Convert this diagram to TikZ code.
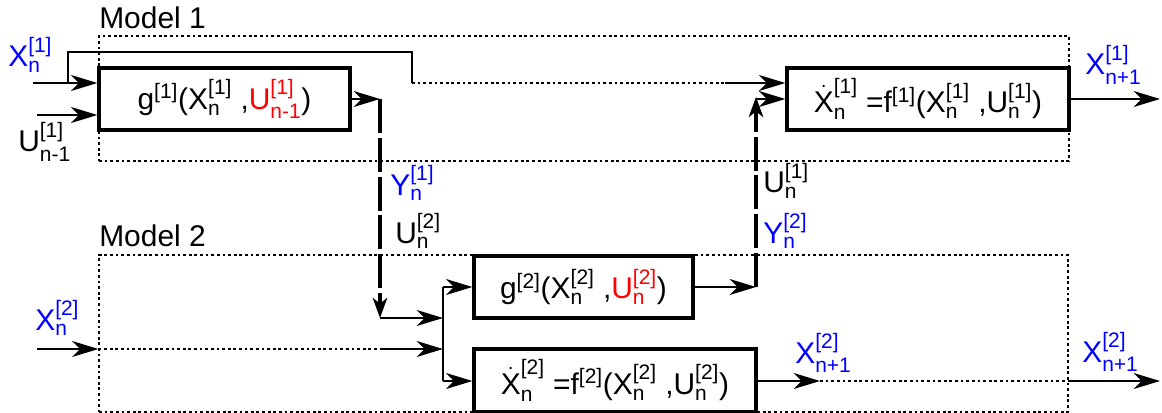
\documentclass[tikz,border=0pt]{standalone}
\usepackage{amsmath}
\usepackage{xcolor}
\usepackage{fontspec}
\setmainfont{Liberation Sans}
\usepackage{tikz}
\usetikzlibrary{
    arrows.meta,
    positioning
}
\newcommand{\sv}[3]{$\text{#1}^{\text{[#2]}}_{\text{#3}}$}
\newcommand{\dsv}[2]{$\dot{\text{X}}^{\text{[#1]}}_{\text{#2}}$}
\tikzset{
    every node/.style={font=\fontsize{21.3}{25}\selectfont},
    block/.style={draw,line width=2.3pt,inner sep=0pt},
    model/.style={draw,line width=0.8pt,dash pattern=on 2pt off 2pt,inner sep=0pt},
    lbl/.style={anchor=base west,inner sep=0pt},
    flow/.style={line width=1pt,-{Stealth[length=0.66cm,width=0.4cm,inset=0.2cm]}},
    wire/.style={line width=1pt},
    dots/.style={line width=0.8pt,dash pattern=on 2pt off 2pt},
    link/.style={line width=2.3pt,dash pattern=on 0.85cm off 0.12cm,
        -{Stealth[length=0.5cm,width=0.36cm,inset=0.14cm]}}
}

\begin{document}
\begin{tikzpicture}[x=0.025cm,y=-0.025cm]
        \useasboundingbox (0,0) rectangle (1162,413);

        % model frames
        \node[model,minimum width=970*0.025cm,minimum height=125*0.025cm] (m1) at (584,98.5) {};
        \node[model,minimum width=969*0.025cm,minimum height=157*0.025cm] (m2) at (583.5,333.5) {};
        \node[lbl] (m1l) at (99,29)  {Model 1};
        \node[lbl] (m2l) at (99,246) {Model 2};

        % blocks
        \node[block,minimum width=251*0.025cm,minimum height=62*0.025cm] (g1) at (224.5,99)
            {g$^{\text{[1]}}$(\sv{X}{1}{n} ,\textcolor{red}{\sv{U}{1}{n-1}})};
        \node[block,minimum width=282*0.025cm,minimum height=62*0.025cm] (f1) at (928,99)
            {\dsv{1}{n} =f$^{\text{[1]}}$(\sv{X}{1}{n} ,\sv{U}{1}{n})};
        \node[block,minimum width=219*0.025cm,minimum height=62*0.025cm] (g2) at (583.5,287)
            {g$^{\text{[2]}}$(\sv{X}{2}{n} ,\textcolor{red}{\sv{U}{2}{n}})};
        \node[block,minimum width=282*0.025cm,minimum height=63*0.025cm] (f2) at (615,380.5)
            {\dsv{2}{n} =f$^{\text{[2]}}$(\sv{X}{2}{n} ,\sv{U}{2}{n})};

        % signal labels
        \node[lbl,blue] (x1) at (8,67)     {\sv{X}{1}{n}};
        \node[lbl]      (u1) at (18,152)   {\sv{U}{1}{n-1}};
        \node[lbl,blue] (x1o) at (1085,75) {\sv{X}{1}{n+1}};
        \node[lbl,blue] (y1) at (390,195)  {\sv{Y}{1}{n}};
        \node[lbl]      (u2) at (395,243)  {\sv{U}{2}{n}};
        \node[lbl]      (u1n) at (763,193) {\sv{U}{1}{n}};
        \node[lbl,blue] (y2) at (763,243)  {\sv{Y}{2}{n}};
        \node[lbl,blue] (x2) at (35,330)   {\sv{X}{2}{n}};
        \node[lbl,blue] (x2m) at (795,363) {\sv{X}{2}{n+1}};
        \node[lbl,blue] (x2o) at (1082,362) {\sv{X}{2}{n+1}};

        % coordinates of wires
        \coordinate (x1in) at (33,83);
        \coordinate (x1tap) at (68,83);
        \coordinate (byA) at (412,83);
        \coordinate (byB) at (725,83);
        \coordinate (u1in) at (37,115);
        \coordinate (y1a) at (380,99);
        \coordinate (y1b) at (380,318);
        \coordinate (jn) at (443,318);
        \coordinate (jt) at (443,287);
        \coordinate (jb) at (443,381);
        \coordinate (x2in) at (37,349);
        \coordinate (x2a) at (380,349);
        \coordinate (y2a) at (756,287);
        \coordinate (y2b) at (756,97);
        \coordinate (y2c) at (756,99);
        \coordinate (x2b) at (820,381);
        \coordinate (x2c) at (1068,381);

        % model 1
        \draw[flow] (x1in) -- (x1in -| g1.west);
        \draw[flow] (u1in) -- (u1in -| g1.west);
        \draw[wire] (x1tap) |- (412,52) -- (byA);
        \draw[dots] (byA) -- (byB);
        \draw[flow] (byB) -- (byB -| f1.west);
        \draw[flow] (g1.east) -- (y1a);
        \draw[flow] (y2c) -- (y2c -| f1.west);
        \draw[flow] (f1.east) -- (1160,99);

        % coupling
        \draw[link] (y1a) -- (y1b);
        \draw[link] (y2a) -- (y2b);

        % model 2
        \draw[flow] (y1b) -- (jn);
        \draw[flow] (x2in) -- (x2in -| m2.west);
        \draw[dots] (x2in -| m2.west) -- (x2a);
        \draw[flow] (x2a) -- (x2a -| jn);
        \draw[wire] (jt) -- (jb);
        \draw[flow] (jt) -- (g2.west);
        \draw[flow] (jb) -- (jb -| f2.west);
        \draw[flow] (g2.east) -- (y2a);
        \draw[flow] (jb -| f2.east) -- (x2b);
        \draw[dots] (x2b) -- (x2c);
        \draw[flow] (x2c) -- (1160,381);
    \end{tikzpicture}
\end{document}
